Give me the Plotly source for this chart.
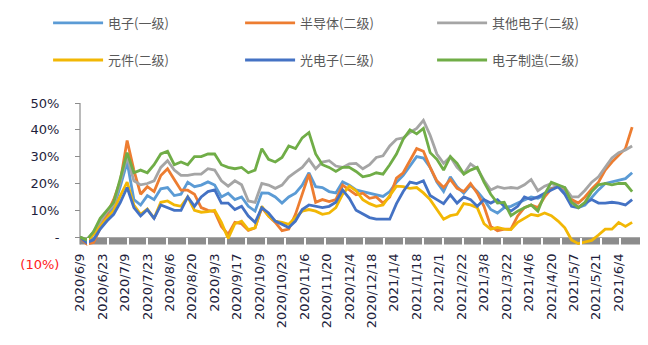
import plotly.graph_objects as go

# ---- data (cumulative return, %), one value every 3 trading days from 2020/6/9 ----
step_days = 3

tick_labels = ["2020/6/9", "2020/6/23", "2020/7/9", "2020/7/23", "2020/8/6", "2020/8/20",
               "2020/9/3", "2020/9/17", "2020/10/9", "2020/10/23", "2020/11/6", "2020/11/20",
               "2020/12/4", "2020/12/18", "2021/1/4", "2021/1/18", "2021/2/1", "2021/2/22",
               "2021/3/8", "2021/3/22", "2021/4/6", "2021/4/20", "2021/5/7", "2021/5/21",
               "2021/6/4"]
label_every = 10  # trading days between labels

series_names = ["电子(一级)", "半导体(二级)", "其他电子(二级)", "元件(二级)", "光电子(二级)", "电子制造(二级)"]

dianzi = [0, -1.5, 1, 5, 8, 11, 19, 28, 14, 12, 15.5, 14, 18, 18.5, 15.5, 16, 20.5, 18.8, 19.4, 20.6,
          19.4, 15, 16.4, 14, 15, 11.5, 9.7, 16.5, 16.4, 15, 12.7, 15, 16.4, 19.4, 24, 18.8, 18.5, 17,
          16.5, 20.6, 19.4, 17.6, 17, 16.4, 16, 15.2, 17, 20.5, 23, 26.5, 30, 29.5, 26, 20.5, 17, 22.5,
          18.8, 16.4, 19.4, 17, 14, 10.3, 9, 11, 11.5, 12.7, 14, 15, 14.5, 15.8, 18.2, 18.8, 17, 14, 11,
          12, 15, 17.6, 20, 20.6, 21.2, 21.8, 24]

bandaoti = [0, -2.5, -2, 3.5, 8.5, 14, 21, 36, 25, 16, 18.8, 17, 23, 25.5, 21.5, 17.5, 17.5, 16, 11, 10,
            9.5, 4, 1, 5.5, 5, 2.5, 3.5, 11, 7.9, 5.5, 2.4, 3, 8.5, 16, 23.5, 13, 14, 13.3, 14, 19.4,
            17.6, 15.8, 16.4, 14.5, 15, 12.7, 15, 22, 24, 28.5, 33, 32, 26, 21, 18.5, 21.5, 18.2, 17, 20,
            16.4, 11.5, 4, 2.4, 3, 3, 7.9, 11, 12, 11, 15, 18, 18.8, 18.2, 14, 12.7, 15, 18, 20.5, 25, 28,
            30.5, 33, 41]

qita = [0, -1, 2, 6, 9.5, 12, 21, 30, 21, 19.5, 20, 21, 26, 28.5, 25, 23, 23, 23.5, 23.5, 25.5, 25, 21,
        19, 21, 19.5, 13.5, 13, 20, 19.4, 18.2, 19.4, 22.4, 24.2, 26, 29, 25.5, 28, 28.5, 26.5, 26, 27.3,
        27.5, 25.5, 27, 29.7, 30.3, 34, 36.5, 37, 39, 40.5, 43.5, 38, 31, 27.5, 30, 26, 23.6, 27.3, 25.5,
        21.2, 17.6, 18.8, 18.2, 18.5, 18.2, 19.5, 21.5, 17.3, 19, 20, 19, 18.5, 15, 15, 17.5, 20.5, 22.5,
        26, 29.5, 31.5, 32.5, 34]

yuanjian = [0, -1.5, 1, 4, 7, 10, 15.5, 20.5, 12, 8.5, 10.5, 7, 13, 13.5, 12, 11.5, 15, 10, 9.3, 9.5, 10,
            5.5, -0.5, 5, 6, 2.8, 3.5, 11.5, 7.9, 6, 5.5, 4.8, 7.3, 9.7, 10.3, 9.7, 8.5, 9, 11, 16, 19,
            17.3, 14, 12.5, 11.5, 12, 15.5, 19, 18.8, 18.2, 18.5, 16.5, 14, 10.5, 6.7, 8, 8.5, 12.5, 12,
            11, 5, 3, 3.6, 3, 2.8, 5.5, 7, 8.5, 8, 9, 8, 6, 3.5, -1, -2.4, -1.7, -1.2, 0.8, 3, 3, 5.5, 4,
            5.5]

guangdianzi = [0, -2, -1, 3, 6, 8.5, 13, 18.5, 11, 7.9, 10.3, 7, 12, 11, 10, 10, 15, 11.5, 15, 17, 17.6,
               12.7, 12.7, 10.3, 11.5, 7.9, 5.5, 11, 9, 6, 4.8, 3.6, 6, 10.3, 12, 11.5, 11, 11.5, 13,
               17.6, 14.5, 10, 8.5, 7.3, 6.7, 6.7, 6.7, 12.5, 17, 20.5, 20, 21, 15.5, 14, 12.5, 15.8,
               12.7, 15, 14, 11.5, 14, 12.7, 14, 11.5, 9.7, 11.5, 15, 14, 15, 16.4, 17.6, 18.8, 16, 11.5,
               11, 12.7, 14, 12.7, 12.7, 13, 12.7, 12, 14]

zhizao = [0, -1, 2, 7, 10, 13, 22, 31.5, 24, 25, 24, 27, 31, 32, 27, 28, 27, 30, 30, 31, 31, 27, 26, 25.5,
          26, 24, 25, 33, 29, 28, 29.7, 34, 33, 37, 39, 31, 27, 26, 24.5, 26, 26, 24.5, 22.5, 23, 24,
          23.5, 27, 31, 36.5, 40, 38.5, 40.5, 31.5, 29, 25, 30, 27.5, 23.5, 25, 26, 20.5, 16, 12.7, 13, 8,
          9.7, 11, 12, 9.7, 16, 20.5, 19.4, 18.5, 13, 11, 13, 17, 19.5, 20, 19.5, 20, 20, 17]

series_values = [dianzi, bandaoti, qita, yuanjian, guangdianzi, zhizao]
series_colors = ["#5B9BD5", "#ED7D31", "#A5A5A5", "#F2B705", "#4472C4", "#70AD47"]

y_tick_vals = [-10, 0, 10, 20, 30, 40, 50]
y_tick_text = ["<span style='color:#FF2020'>(10%)</span>", "-", "10%", "20%", "30%", "40%", "50%"]

# ---- figure ----
fig = go.Figure()
for i, (name, vals, col) in enumerate(zip(series_names, series_values, series_colors)):
    fig.add_trace(go.Scatter(
        x=[k * step_days for k in range(len(vals))], y=vals, name=name, mode="lines",
        line=dict(color=col, width=2.8),
        legend="legend" if i < 3 else "legend2",
    ))
# helper trace so the decorative overlay axes get drawn
fig.add_trace(go.Scatter(x=[None], y=[None], xaxis="x2", yaxis="y2",
                         showlegend=False, hoverinfo="skip"))

axis_gray = "#8C8C8C"
zero_pos = 10 / 60  # paper fraction of y=0 within [-10, 50]

legend_common = dict(
    orientation="h", xanchor="left", yanchor="middle",
    entrywidth=127, entrywidthmode="pixels", itemwidth=50,
    font=dict(family="Noto Sans CJK SC", size=13, color="#595959"),
    bgcolor="rgba(0,0,0,0)",
)

fig.update_layout(
    width=648, height=345,
    margin=dict(l=80, r=8, t=99, b=81),
    paper_bgcolor="white", plot_bgcolor="white",
    showlegend=True,
    xaxis=dict(
        range=[0, 249.5], showgrid=False, zeroline=False, showline=False,
        anchor="free", position=zero_pos,
        tickmode="array",
        tickvals=[k * label_every for k in range(len(tick_labels))],
        ticktext=tick_labels, tickangle=-90,
        ticks="outside", ticklen=10, tickcolor="rgba(0,0,0,0)",
        tickfont=dict(family="DejaVu Sans", size=13, color="#1E1E3C"),
    ),
    xaxis2=dict(
        overlaying="x", matches="x", anchor="free", position=zero_pos,
        showgrid=False, zeroline=False, showline=False, showticklabels=False,
        tick0=3.72, dtick=8.78, ticks="outside", ticklen=7, tickwidth=2, tickcolor="white",
    ),
    yaxis=dict(
        range=[-10, 50], showgrid=False, zeroline=False, showline=False,
        tickmode="array", tickvals=y_tick_vals, ticktext=y_tick_text,
        ticks="outside", ticklen=17, tickcolor="rgba(0,0,0,0)",
        tickfont=dict(family="DejaVu Sans", size=13, color="#1E1E3C"),
    ),
    yaxis2=dict(
        overlaying="y", matches="y", anchor="free", position=0, side="left",
        showgrid=False, zeroline=False, showline=False, showticklabels=False,
        tickmode="array", tickvals=[0, 10, 20, 30, 40, 50],
        ticks="outside", ticklen=5, tickwidth=1, tickcolor=axis_gray,
    ),
    legend=dict(x=-0.057, y=(264 - 17) / 165, **legend_common),
    legend2=dict(x=-0.057, y=(264 - 55) / 165, **legend_common),
    shapes=[
        dict(type="rect", xref="paper", x0=0, x1=1, yref="y", y0=0, y1=-2.7,
             fillcolor=axis_gray, line=dict(width=0), layer="below"),
        dict(type="line", xref="paper", x0=0, x1=0, yref="y", y0=-2.7, y1=50,
             line=dict(color=axis_gray, width=1.2), layer="below"),
    ],
)

fig.write_html("out.html")
